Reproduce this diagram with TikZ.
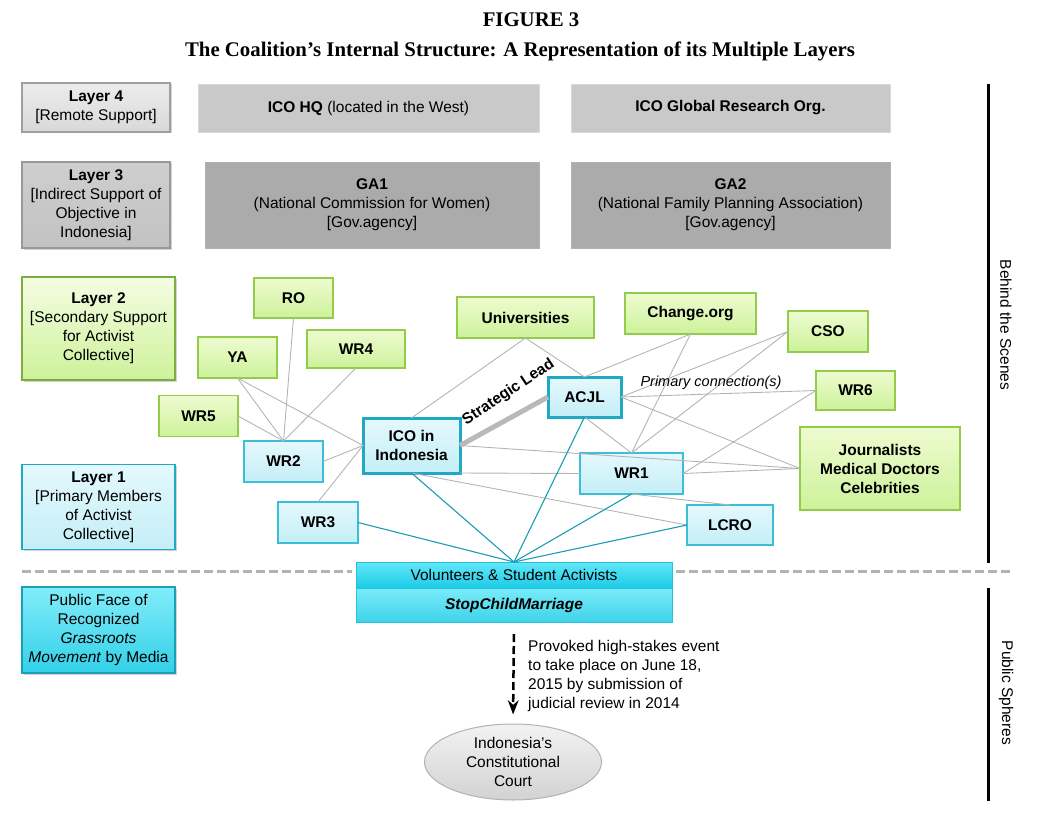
\documentclass[tikz,border=0pt]{standalone}
\usepackage{fontspec}
\setmainfont{Liberation Sans}
\newfontfamily\titlefont{Liberation Serif}
\usepackage{tikz}
\usetikzlibrary{
  arrows.meta,      % Stealth 箭头
  shapes.geometric, % 椭圆节点（宪法法院）
  shadows           % 层级框的阴影
}
\newcommand{\basefont}{\fontsize{15.5}{19}\selectfont}
\definecolor{suppgreen}{HTML}{92CC4A}
\definecolor{supptop}{HTML}{EEFBD0}
\definecolor{suppbot}{HTML}{CDF29A}
\definecolor{membcyan}{HTML}{3CBED8}
\definecolor{membtop}{HTML}{E4F9FD}
\definecolor{membbot}{HTML}{C4EEF7}
\definecolor{leadcyan}{HTML}{20A9C4}
\definecolor{voltop}{HTML}{62E8F8}
\definecolor{volbot}{HTML}{1CCBE6}
\definecolor{voledge}{HTML}{22C2DC}
\definecolor{faceedge}{HTML}{1A9FB5}
\definecolor{tiegrey}{HTML}{B4B4B4}
\definecolor{feedteal}{HTML}{1A9CB2}
\tikzset{
  layerbox/.style={
    rectangle,
    align=center,
    inner sep=0pt,
    outer sep=0pt,
    line width=1.3pt,
    drop shadow={shadow xshift=1.5pt, shadow yshift=-1.5pt, opacity=0.35}
  },
  remote/.style={
    layerbox,
    draw=gray!75,
    top color=gray!15,
    bottom color=gray!30
  },
  indirect/.style={
    layerbox,
    draw=gray!80,
    top color=gray!38,
    bottom color=gray!48
  },
  secondary/.style={
    layerbox,
    draw=suppgreen!85!black,
    top color=supptop!60!white,
    bottom color=suppbot
  },
  primary/.style={
    layerbox,
    draw=leadcyan,
    top color=membtop,
    bottom color=membbot
  },
  public face/.style={
    layerbox,
    draw=faceedge,
    top color=voltop!80!white,
    bottom color=volbot!90!white
  },
  greybar/.style={
    rectangle,
    align=center,
    inner sep=0pt,
    outer sep=0pt,
    draw=gray!30,
    fill=gray!42,
    line width=0.8pt
  },
  agency/.style={
    rectangle,
    align=center,
    inner sep=0pt,
    outer sep=0pt,
    draw=gray!60,
    fill=gray!66,
    line width=0.8pt
  },
  support/.style={
    rectangle,
    align=center,
    inner sep=0pt,
    outer sep=0pt,
    draw=suppgreen,
    line width=1.2pt,
    top color=supptop,
    bottom color=suppbot,
    font=\basefont\bfseries
  },
  member/.style={
    rectangle,
    align=center,
    inner sep=0pt,
    outer sep=0pt,
    draw=membcyan,
    line width=1.2pt,
    top color=membtop,
    bottom color=membbot,
    font=\basefont\bfseries
  },
  lead/.style={
    member,
    draw=leadcyan,
    line width=3pt
  },
  volbox/.style={
    rectangle,
    align=center,
    inner sep=0pt,
    outer sep=0pt,
    draw=voledge,
    line width=1pt,
    top color=voltop,
    bottom color=volbot
  },
  tie/.style={
    draw=tiegrey,
    line width=0.9pt
  },
  feed/.style={
    draw=feedteal,
    line width=1.1pt
  },
  strategic/.style={
    draw=gray!55,
    line width=5pt
  },
  sideline/.style={
    line width=3pt,
    black
  },
  divider/.style={
    line width=3pt,
    gray!60,
    dash pattern=on 9pt off 4pt
  }
}

\begin{document}
\begin{tikzpicture}[>=Stealth, x=1pt, y=-1pt, font=\basefont] % 以像素为单位（y 轴向下），左列为层级说明，右侧为联盟网络
  \useasboundingbox (0,0) rectangle (1063,840); % 固定画面大小

  % 标题
  \node[font=\titlefont\fontsize{20.8}{24}\selectfont\bfseries] (fig) at (531,20) {FIGURE 3};
  \node[font=\titlefont\fontsize{20.8}{24}\selectfont\bfseries] (caption) at (520,51) {The Coalition’s Internal Structure: A Representation of its Multiple Layers};

  % 左列：各层说明框
  \node[remote, minimum width=148pt, minimum height=49pt] (layer4) at (96,107.5) {\textbf{Layer 4}\\{[}Remote Support{]}};
  \node[indirect, minimum width=148pt, minimum height=86pt] (layer3) at (96,205) {\textbf{Layer 3}\\{[}Indirect Support of\\Objective in\\Indonesia{]}};
  \node[secondary, minimum width=153pt, minimum height=103pt] (layer2) at (98.5,328.5) {\textbf{Layer 2}\\{[}Secondary Support\\for Activist\\Collective{]}};
  \node[primary, minimum width=153pt, minimum height=85pt] (layer1) at (98.5,507) {\textbf{Layer 1}\\{[}Primary Members\\of Activist\\Collective{]}};
  \node[public face, minimum width=153pt, minimum height=86pt] (face) at (98.5,630) {Public Face of\\Recognized\\\textit{Grassroots}\\\textit{Movement} by Media};

  % 第 4、3 层：总部与政府机构
  \node[greybar, minimum width=341pt, minimum height=48pt] (hq) at (368.5,108) {\textbf{ICO HQ} (located in the West)};
  \node[greybar, minimum width=319pt, minimum height=48pt] (gro) at (730.5,108) {\textbf{ICO Global Research Org.}};
  \node[agency, minimum width=334pt, minimum height=86pt] (ga1) at (372,205) {\textbf{GA1}\\(National Commission for Women)\\{[}Gov.agency{]}};
  \node[agency, minimum width=319pt, minimum height=86pt] (ga2) at (730.5,205) {\textbf{GA2}\\(National Family Planning Association)\\{[}Gov.agency{]}};

  % 第 2 层：外围支持者（绿色）
  \node[support, minimum width=79pt, minimum height=40pt] (ro) at (293.5,298) {RO};
  \node[support, minimum width=79pt, minimum height=41pt] (ya) at (237.5,357.5) {YA};
  \node[support, minimum width=98pt, minimum height=38pt] (wr4) at (356,349) {WR4};
  \node[support, minimum width=79pt, minimum height=41pt] (wr5) at (198.5,416) {WR5};
  \node[support, minimum width=137pt, minimum height=41pt] (univ) at (525.5,317.5) {Universities};
  \node[support, minimum width=131pt, minimum height=41pt] (change) at (690.5,313.5) {Change.org};
  \node[support, minimum width=80pt, minimum height=41pt] (cso) at (828,331.5) {CSO};
  \node[support, minimum width=79pt, minimum height=39pt] (wr6) at (855.5,390.5) {WR6};
  \node[support, minimum width=160pt, minimum height=83pt] (journ) at (880,468.5) {Journalists\\Medical Doctors\\Celebrities};

  % 第 1 层：核心成员（青色）
  \node[member, minimum width=79pt, minimum height=41pt] (wr2) at (283.5,461.5) {WR2};
  \node[member, minimum width=80pt, minimum height=41pt] (wr3) at (318,522.5) {WR3};
  \node[lead, minimum width=97pt, minimum height=55pt] (ico) at (411.5,445.5) {ICO in\\Indonesia};
  \node[lead, minimum width=73pt, minimum height=40pt] (acjl) at (584.5,397) {ACJL};
  \node[member, minimum width=103pt, minimum height=41pt] (wr1) at (631.5,473.5) {WR1};
  \node[member, minimum width=86pt, minimum height=40pt] (lcro) at (730,525) {LCRO};

  % 志愿者与公众运动
  \node[volbox, minimum width=316pt, minimum height=26pt] (vol) at (514,575) {Volunteers \& Student Activists};
  \node[volbox, top color=voltop!85!white, bottom color=volbot!85!white, minimum width=316pt, minimum height=34pt, font=\basefont\bfseries\itshape] (scm) at (514,605) {StopChildMarriage};

  % 宪法法院
  \node[ellipse, draw=gray!60, line width=1pt, top color=gray!10, bottom color=gray!35, minimum width=177pt, minimum height=76pt, inner sep=0pt, align=center] (court) at (513,762) {Indonesia’s\\Constitutional\\Court};

  % 次要联系（灰线）
  \draw[tie] (ya.south) -- (wr2.north);
  \draw[tie] (ya.south) -- (ico.west);
  \draw[tie] (ro.south) -- (wr2.north);
  \draw[tie] (wr4.south) -- (wr2.north);
  \draw[tie] (wr5.east) -- (wr2.north);
  \draw[tie] (wr2.east) -- (ico.west);
  \draw[tie] (wr3.north) -- (ico.west);
  \draw[tie] (univ.south) -- (ico.north);
  \draw[tie] (univ.south) -- (acjl.north);
  \draw[tie] (change.south) -- (acjl.north);
  \draw[tie] (change.south) -- (wr1.north);
  \draw[tie] (cso.west) -- (acjl.east);
  \draw[tie] (cso.west) -- (wr1.north);
  \draw[tie] (wr6.west) -- (acjl.east);
  \draw[tie] (wr6.west) -- (wr1.east);
  \draw[tie] (acjl.east) -- (journ.west);
  \draw[tie] (acjl.south) -- (wr1.north);
  \draw[tie] (ico.east) -- (journ.west);
  \draw[tie] (ico.south east) -- (wr1.west);
  \draw[tie] (wr1.east) -- (journ.west);
  \draw[tie] (ico.south) -- (lcro.west);
  \draw[tie] (wr1.south) -- (lcro.north);
  \node[font=\fontsize{14.5}{17}\selectfont\itshape] (primlabel) at (711,383) {Primary connection(s)};

  % 主要联系（青线）汇聚到志愿者
  \draw[feed] (wr3.east) -- (vol.north);
  \draw[feed] (ico.south) -- (vol.north);
  \draw[feed] (acjl.south) -- (vol.north);
  \draw[feed] (wr1.south) -- (vol.north);
  \draw[feed] (lcro.west) -- (vol.north);

  % 战略领导
  \draw[strategic] (ico.east) -- (acjl.west) node[pos=0.69, above=10pt, sloped, rotate=5, black, font=\basefont\bfseries] (leadlabel) {Strategic Lead};

  % 引发事件
  \draw[->, line width=2.5pt, dash pattern=on 8pt off 4pt, shorten <=12pt, shorten >=9pt] (scm.south) -- (court.north);
  \node[anchor=north west, align=left, inner sep=0pt] (note) at (528,640) {Provoked high-stakes event\\to take place on June 18,\\2015 by submission of\\judicial review in 2014};

  % 分隔线与右侧标注
  \draw[divider] (22,571) -- (352,571);
  \draw[divider] (676,571) -- (1012,571);
  \draw[sideline] (988,84) -- (988,563);
  \draw[sideline] (988,588) -- (988,801);
  \node[rotate=-90] (behind) at (1006,325) {Behind the Scenes};
  \node[rotate=-90] (public) at (1006,693) {Public Spheres};
\end{tikzpicture}
\end{document}
